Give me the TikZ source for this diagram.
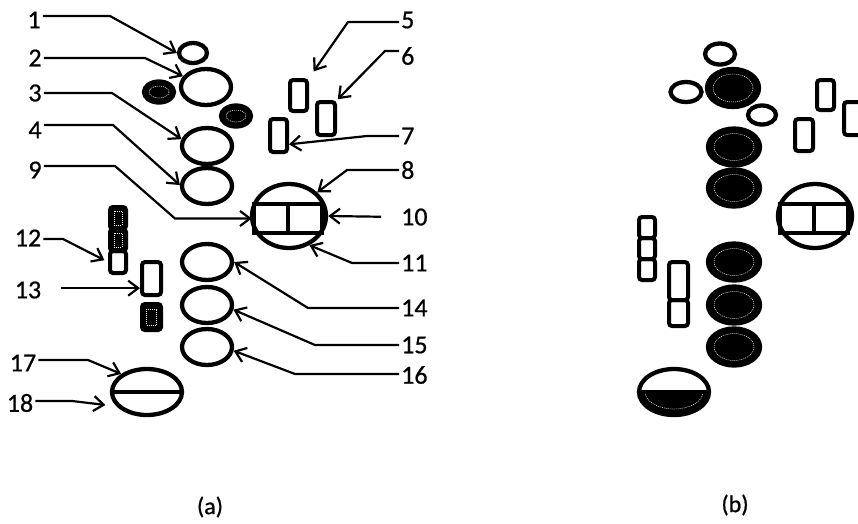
\documentclass[tikz,border=0pt]{standalone}
\usepackage{fontspec}
\setmainfont{Carlito}
\newfontfamily\lblfont{Carlito}[FakeBold=0.7]
\usetikzlibrary{shapes.geometric,arrows.meta}

\begin{document}
\begin{tikzpicture}[x=1pt,y=-1pt,
  wE/.style={ellipse,draw,fill=white,line width=4.3pt,inner sep=0pt},
  dE/.style={ellipse,draw,fill=black,line width=4.3pt,inner sep=0pt},
  sz/.style 2 args={minimum width=#1pt,minimum height=#2pt},
  cell/.style={rectangle,draw,rounded corners=3pt,line width=4pt,inner sep=0pt},
  dcell/.style={cell,fill=black},
  dotring/.style={draw=white,line width=0.5pt,dash pattern=on 1pt off 1pt},
  lbl/.style={font=\lblfont\fontsize{26}{26}\selectfont,inner sep=2pt},
  captext/.style={font=\lblfont\fontsize{24}{24}\selectfont},
  lead/.style={line width=2.2pt,-{Straight Barb[length=10pt,width=15pt]}},
]
\useasboundingbox (0,0) rectangle (858,523);
\clip (0,0) rectangle (858,523);

% ---------------- panel (a) ----------------
\node[wE,sz={28}{20}] (e1) at (193,53) {};
\node[wE,sz={50}{36}] (e2) at (206,87) {};
\node[dE,sz={30}{21}] (d1) at (159,92) {};
\draw[dotring] (d1.center) ellipse (10 and 6);
\node[dE,sz={30}{21}] (d2) at (236,116) {};
\draw[dotring] (d2.center) ellipse (10 and 6);
\node[wE,sz={50}{36}] (e3) at (207,146) {};
\node[wE,sz={50}{36}] (e4) at (207,186) {};

% rectangles 5, 6, 7
\node[cell,sz={17}{31}] (r5) at (298.5,95.5) {};
\node[cell,sz={18}{33}] (r6) at (326,118.5) {};
\node[cell,sz={17}{33}] (r7) at (278.5,135.5) {};

% capped ellipse with divided box
\node[wE,sz={74}{64}] (e8) at (289,216) {};
\node[rectangle,draw,line width=4.3pt,inner sep=0pt,sz={68}{29}] (r8) at (288,218.5) {};
\draw[line width=3.8pt] (r8.north) -- (r8.south);

% lower ellipses
\node[wE,sz={50}{36}] (e14) at (207,262) {};
\node[wE,sz={50}{36}] (e15) at (207,305) {};
\node[wE,sz={50}{36}] (e16) at (207,347) {};

% stacked cells 12
\node[dcell,sz={16}{22}] (c12a) at (118,218) {};
\node[dcell,sz={16}{22}] (c12b) at (118,240) {};
\node[cell,sz={16}{22}] (c12c) at (118,262) {};
\draw[dotring] ([shift={(-4,-7)}]c12a.center) rectangle ([shift={(4,7)}]c12a.center);
\draw[dotring] ([shift={(-4,-7)}]c12b.center) rectangle ([shift={(4,7)}]c12b.center);

% cells 13
\node[cell,sz={19}{33}] (r13) at (151.5,278.5) {};
\node[dcell,sz={19}{26}] (r13d) at (151.5,317) {};
\draw[dotring] ([shift={(-5,-8)}]r13d.center) rectangle ([shift={(5,8)}]r13d.center);

% split ellipse 17/18
\node[wE,sz={70}{46}] (e17) at (147,392) {};
\draw[line width=3.8pt] (e17.west) -- (e17.east);

% labels
\node[lbl] (l1) at (34,20) {1};
\node[lbl] (l2) at (35,58) {2};
\node[lbl] (l3) at (35,93) {3};
\node[lbl] (l4) at (35,130) {4};
\node[lbl] (l9) at (35,170) {9};
\node[lbl] (l12) at (28,238) {12};
\node[lbl] (l13) at (28,290) {13};
\node[lbl] (l17) at (23,363) {17};
\node[lbl] (l18) at (20,403) {18};
\node[lbl,anchor=west] (l5) at (399,20) {5};
\node[lbl,anchor=west] (l6) at (399,56) {6};
\node[lbl,anchor=west] (l7) at (399,136) {7};
\node[lbl,anchor=west] (l8) at (399,170) {8};
\node[lbl,anchor=west] (l10) at (399,217) {10};
\node[lbl,anchor=west] (l11) at (399,263) {11};
\node[lbl,anchor=west] (l14) at (399,308) {14};
\node[lbl,anchor=west] (l15) at (399,345) {15};
\node[lbl,anchor=west] (l16) at (399,375) {16};

% bend points of the leader lines
\coordinate (b1) at (110,16);
\coordinate (b2) at (145,58);
\coordinate (b3) at (112,93);
\coordinate (b4) at (113,125);
\coordinate (b9) at (115,166);
\coordinate (b9b) at (175,218.5);
\coordinate (b5) at (348,22);
\coordinate (b6) at (385,51);
\coordinate (b7) at (367,136);
\coordinate (b8) at (347,170);
\coordinate (b11) at (352,263);
\coordinate (b12) at (63,239);
\coordinate (b14) at (308,308);
\coordinate (b15) at (315,345);
\coordinate (b16) at (295,374);
\coordinate (b17) at (88,360);
\coordinate (b18) at (72,401);

% leader lines
\draw[lead] (l1.east |- b1) -- (b1) -- (e1.west);
\draw[lead] (l2.east |- b2) -- (b2) -- (e2.155);
\draw[lead] (l3.east |- b3) -- (b3) -- (e3.165);
\draw[lead] (l4.east |- b4) -- (b4) -- (e4.178);
\draw[lead] (l9.east |- b9) -- (b9) -- (b9b) -- (r8.west);
\draw[lead,shorten >=8pt] (l5.west |- b5) -- (b5) -- (r5.north east);
\draw[lead,shorten >=1pt] (l6.west |- b6) -- (b6) -- (r6.north east);
\draw[lead] (l7.west |- b7) -- (b7) -- (r7.-40);
\draw[lead] (l8.west |- b8) -- (b8) -- (e8.40);
\draw[lead,shorten <=18pt] (l10.west) -- (e8.east);
\draw[lead] (l11.west |- b11) -- (b11) -- (e8.-55);
\draw[lead,shorten >=4pt] (l12.east |- b12) -- (b12) -- (c12c.west);
\draw[lead,shorten <=18pt] (r13.220 -| l13.east) -- (r13.220);
\draw[lead] (l14.west |- b14) -- (b14) -- (e14.east);
\draw[lead] (l15.west |- b15) -- (b15) -- (e15.-10);
\draw[lead] (l16.west |- b16) -- (b16) -- (e16.-8);
\draw[lead] (l17.east |- b17) -- (b17) -- (e17.145);
\draw[lead,shorten >=11pt] (l18.east |- b18) -- (b18) -- (e17.205);

% ---------------- panel (b) ----------------
\node[wE,sz={30}{21}] (f1) at (720,54) {};
\node[dE,sz={52}{38}] (f2) at (733,88) {};
\draw[dotring] (f2.center) ellipse (20 and 14);
\node[wE,sz={31}{20}] (g1) at (686,92) {};
\node[wE,sz={28}{19}] (g2) at (762,115) {};
\node[dE,sz={52}{37}] (f3) at (734,147) {};
\draw[dotring] (f3.center) ellipse (20 and 13.5);
\node[dE,sz={52}{37}] (f4) at (734,188) {};
\draw[dotring] (f4.center) ellipse (20 and 13.5);

\node[cell,sz={17}{30}] (s5) at (825.5,95) {};
\node[cell,sz={18}{33}] (s6) at (853,118.5) {};
\node[cell,sz={18}{32}] (s7) at (804,135) {};

\node[wE,sz={74}{64}] (f8) at (815,216) {};
\node[rectangle,draw,line width=4.3pt,inner sep=0pt,sz={68}{29}] (s8) at (814,218.5) {};
\draw[line width=3.8pt] (s8.north) -- (s8.south);

\node[dE,sz={52}{37}] (f14) at (734,262) {};
\draw[dotring] (f14.center) ellipse (20 and 13.5);
\node[dE,sz={52}{37}] (f15) at (734,305) {};
\draw[dotring] (f15.center) ellipse (20 and 13.5);
\node[dE,sz={52}{37}] (f16) at (734,347) {};
\draw[dotring] (f16.center) ellipse (20 and 13.5);

\node[cell,sz={16}{21}] (t12a) at (647,227.5) {};
\node[cell,sz={16}{21}] (t12b) at (647,248.5) {};
\node[cell,sz={16}{21}] (t12c) at (647,269.5) {};
\node[cell,sz={19}{38}] (t13a) at (678.5,281) {};
\node[cell,sz={19}{26}] (t13b) at (678.5,313) {};

% split ellipse with dark lower half
\begin{scope}
  \clip (630,392) rectangle (720,425);
  \fill[black] (674,392) ellipse (35 and 23);
  \draw[dotring] (674,392) ellipse (29 and 17);
\end{scope}
\node[ellipse,draw,line width=4.3pt,inner sep=0pt,sz={70}{46}] (f17) at (674,392) {};
\draw[line width=3.8pt] (f17.west) -- (f17.east);

% captions
\node[captext] (capa) at (210,507) {(a)};
\node[captext] (capb) at (735,505) {(b)};
\end{tikzpicture}
\end{document}
